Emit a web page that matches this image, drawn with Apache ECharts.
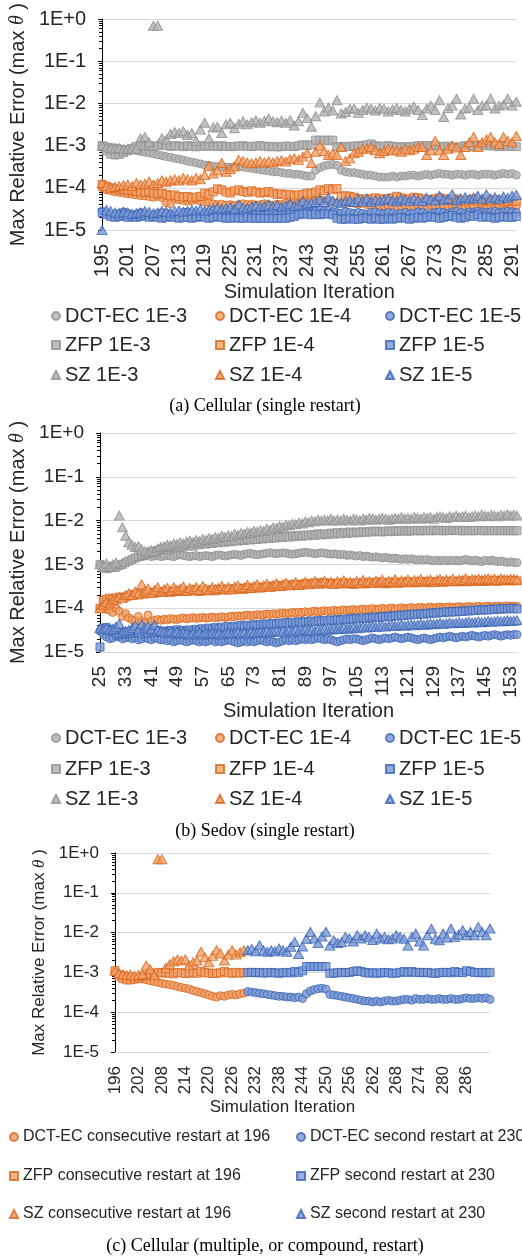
<!DOCTYPE html>
<html>
<head>
<meta charset="utf-8">
<title>Max Relative Error over Simulation Iterations</title>
<script src="https://cdn.jsdelivr.net/npm/echarts@6/dist/echarts.min.js"></script>
<style>
  html, body { margin: 0; padding: 0; background: #fff; }
  #chart { width: 522px; height: 1259px; }
</style>
</head>
<body>
<div id="chart"></div>
<script>
// ---------- axis ticks ----------
const yTickValues = [1e-5, 1e-4, 1e-3, 1e-2, 1e-1, 1];
const yTickLabels = ['1E-5', '1E-4', '1E-3', '1E-2', '1E-1', '1E+0'];

function iterRange(first, last) {
  const out = [];
  for (let v = first; v <= last; v++) out.push(String(v));
  return out;
}
// (a) Cellular 195..292, (b) Sedov 25..155, (c) Cellular compound 196..292
const itersA = iterRange(195, 292);
const itersB = iterRange(25, 155);
const itersC = iterRange(196, 292);

// ---------- (a) Cellular, single restart ----------
const aDct3 = [
  1.0e-3, 9.6e-4, 9.2e-4, 8.9e-4, 8.6e-4, 8.3e-4, 8.1e-4, 7.9e-4, 7.6e-4, 7.3e-4,
  7.0e-4, 6.7e-4, 6.4e-4, 6.1e-4, 5.8e-4, 5.5e-4, 5.3e-4, 5.0e-4, 4.8e-4, 4.6e-4,
  4.3e-4, 4.1e-4, 3.9e-4, 3.7e-4, 3.5e-4, 3.4e-4, 3.3e-4, 3.2e-4, 3.1e-4, 3.1e-4,
  3.1e-4, 3.2e-4, 3.2e-4, 3.1e-4, 3.0e-4, 2.9e-4, 2.8e-4, 2.7e-4, 2.6e-4, 2.5e-4,
  2.4e-4, 2.4e-4, 2.3e-4, 2.2e-4, 2.2e-4, 2.1e-4, 2.1e-4, 2.0e-4, 1.9e-4, 1.9e-4,
  2.6e-4, 3.0e-4, 3.3e-4, 3.5e-4, 3.6e-4, 3.4e-4, 2.6e-4, 2.4e-4, 2.3e-4, 2.3e-4,
  2.2e-4, 2.1e-4, 2.0e-4, 2.0e-4, 1.9e-4, 1.8e-4, 1.8e-4, 1.8e-4, 1.9e-4, 1.8e-4,
  1.9e-4, 1.9e-4, 2.0e-4, 2.0e-4, 1.9e-4, 2.0e-4, 2.1e-4, 2.0e-4, 2.1e-4, 2.2e-4,
  2.1e-4, 2.1e-4, 2.0e-4, 2.1e-4, 2.1e-4, 2.0e-4, 2.1e-4, 2.1e-4, 2.0e-4, 2.1e-4,
  2.1e-4, 2.1e-4, 2.0e-4, 2.1e-4, 2.2e-4, 2.1e-4, 2.2e-4, 2.0e-4
];
const aDct4 = [
  1.0e-4, 9.0e-5, 8.5e-5, 8.0e-5, 7.8e-5, 7.5e-5, 7.2e-5, 7.0e-5, 6.8e-5, 6.5e-5,
  6.5e-5, 6.2e-5, 6.0e-5, 6.3e-5, 5.8e-5, 4.4e-5, 4.2e-5, 5.5e-5, 5.2e-5, 5.0e-5,
  4.8e-5, 5.0e-5, 5.3e-5, 4.8e-5, 4.6e-5, 4.4e-5, 4.2e-5, 4.0e-5, 4.1e-5, 3.9e-5,
  4.0e-5, 3.8e-5, 4.0e-5, 4.2e-5, 4.0e-5, 4.1e-5, 3.9e-5, 4.0e-5, 4.2e-5, 4.0e-5,
  3.9e-5, 4.1e-5, 4.0e-5, 4.3e-5, 4.1e-5, 4.0e-5, 4.2e-5, 4.4e-5, 4.5e-5, 4.8e-5,
  5.0e-5, 5.2e-5, 5.0e-5, 4.8e-5, 4.6e-5, 4.3e-5, 4.5e-5, 4.2e-5, 4.4e-5, 4.3e-5,
  4.1e-5, 4.3e-5, 4.0e-5, 3.8e-5, 3.7e-5, 3.6e-5, 3.8e-5, 3.7e-5, 3.9e-5, 3.8e-5,
  3.7e-5, 3.9e-5, 3.8e-5, 3.6e-5, 3.8e-5, 3.7e-5, 3.9e-5, 4.0e-5, 3.8e-5, 3.7e-5,
  3.8e-5, 3.6e-5, 3.7e-5, 3.9e-5, 3.8e-5, 3.7e-5, 3.6e-5, 3.8e-5, 3.7e-5, 3.9e-5,
  3.8e-5, 3.7e-5, 3.6e-5, 3.8e-5, 3.7e-5, 3.5e-5, 3.6e-5, 3.7e-5
];
const aDct5 = [
  2.8e-5, 2.6e-5, 2.4e-5, 2.3e-5, 2.5e-5, 2.7e-5, 2.5e-5, 2.3e-5, 2.4e-5, 2.6e-5,
  2.5e-5, 2.3e-5, 2.2e-5, 2.4e-5, 2.6e-5, 2.5e-5, 2.3e-5, 2.2e-5, 2.4e-5, 2.6e-5,
  2.7e-5, 2.5e-5, 2.4e-5, 2.3e-5, 2.5e-5, 2.6e-5, 2.4e-5, 2.3e-5, 2.5e-5, 2.7e-5,
  2.6e-5, 2.4e-5, 2.5e-5, 2.6e-5, 2.4e-5, 2.3e-5, 2.5e-5, 2.6e-5, 2.4e-5, 2.5e-5,
  2.6e-5, 2.5e-5, 2.4e-5, 2.6e-5, 2.7e-5, 2.8e-5, 2.7e-5, 2.9e-5, 2.8e-5, 2.7e-5,
  2.9e-5, 3.0e-5, 2.8e-5, 2.9e-5, 2.7e-5, 2.6e-5, 2.5e-5, 2.7e-5, 2.6e-5, 2.5e-5,
  2.6e-5, 2.5e-5, 2.4e-5, 2.6e-5, 2.7e-5, 2.5e-5, 2.4e-5, 2.6e-5, 2.5e-5, 2.4e-5,
  2.5e-5, 2.6e-5, 2.4e-5, 2.5e-5, 2.7e-5, 2.6e-5, 2.4e-5, 2.5e-5, 2.6e-5, 2.7e-5,
  2.6e-5, 2.5e-5, 2.7e-5, 2.8e-5, 2.6e-5, 2.5e-5, 2.7e-5, 2.6e-5, 2.8e-5, 2.7e-5,
  2.6e-5, 2.7e-5, 2.8e-5, 2.6e-5, 2.7e-5, 2.8e-5, 2.7e-5, 2.6e-5
];
const aZfp3 = [
  1.0e-3, 7.5e-4, 6.3e-4, 6.0e-4, 6.2e-4, 6.8e-4, 7.5e-4, 8.5e-4, 9.5e-4, 1.0e-3,
  9.8e-4, 1.0e-3, 9.5e-4, 1.0e-3, 1.1e-3, 1.0e-3, 9.6e-4, 1.0e-3, 9.8e-4, 9.5e-4,
  1.0e-3, 9.6e-4, 9.4e-4, 1.0e-3, 9.6e-4, 9.7e-4, 1.0e-3, 9.5e-4, 1.0e-3, 9.6e-4,
  9.5e-4, 9.6e-4, 9.8e-4, 1.0e-3, 9.6e-4, 9.5e-4, 9.8e-4, 1.0e-3, 9.7e-4, 9.4e-4,
  9.6e-4, 9.3e-4, 9.5e-4, 9.8e-4, 9.6e-4, 9.5e-4, 1.0e-3, 1.05e-3, 1.0e-3, 1.05e-3,
  1.35e-3, 1.35e-3, 1.35e-3, 1.35e-3, 1.35e-3, 9.5e-4, 9.4e-4, 9.6e-4, 9.5e-4, 9.8e-4,
  1.0e-3, 9.8e-4, 1.05e-3, 1.1e-3, 1.0e-3, 9.5e-4, 9.8e-4, 1.0e-3, 9.6e-4, 9.5e-4,
  9.2e-4, 9.5e-4, 9.3e-4, 9.6e-4, 1.0e-3, 1.0e-3, 9.8e-4, 1.0e-3, 1.0e-3, 9.6e-4,
  9.5e-4, 9.8e-4, 9.4e-4, 9.0e-4, 9.5e-4, 1.0e-3, 1.0e-3, 9.6e-4, 1.0e-3, 1.05e-3,
  1.0e-3, 1.0e-3, 9.8e-4, 9.5e-4, 1.0e-3, 9.6e-4, 9.8e-4, 9.5e-4
];
const aZfp4 = [
  1.2e-4, 1.1e-4, 1.0e-4, 9.5e-5, 9.0e-5, 9.2e-5, 8.5e-5, 8.8e-5, 8.2e-5, 8.0e-5,
  7.8e-5, 8.0e-5, 7.5e-5, 7.2e-5, 7.5e-5, 7.0e-5, 6.5e-5, 6.8e-5, 6.2e-5, 6.0e-5,
  6.2e-5, 5.8e-5, 6.0e-5, 6.3e-5, 7.5e-5, 7.0e-5, 8.0e-5, 9.5e-5, 9.0e-5, 8.0e-5,
  7.5e-5, 8.5e-5, 9.0e-5, 8.2e-5, 7.8e-5, 8.5e-5, 8.0e-5, 7.5e-5, 7.8e-5, 8.2e-5,
  7.5e-5, 7.0e-5, 7.2e-5, 6.8e-5, 7.0e-5, 6.5e-5, 6.8e-5, 7.0e-5, 7.5e-5, 7.4e-5,
  8.0e-5, 9.0e-5, 8.5e-5, 9.6e-5, 9.0e-5, 9.6e-5, 6.3e-5, 6.5e-5, 6.3e-5, 6.0e-5,
  5.5e-5, 5.3e-5, 5.5e-5, 5.3e-5, 5.8e-5, 5.5e-5, 5.3e-5, 5.6e-5, 5.8e-5, 6.3e-5,
  5.8e-5, 5.3e-5, 5.5e-5, 6.0e-5, 5.8e-5, 5.5e-5, 5.0e-5, 5.3e-5, 5.5e-5, 5.8e-5,
  5.5e-5, 5.0e-5, 5.3e-5, 5.5e-5, 5.0e-5, 4.8e-5, 5.2e-5, 5.5e-5, 5.0e-5, 4.8e-5,
  5.0e-5, 4.8e-5, 5.2e-5, 5.0e-5, 4.6e-5, 4.8e-5, 5.0e-5, 4.8e-5
];
const aZfp5 = [
  2.6e-5, 2.3e-5, 2.1e-5, 2.0e-5, 2.1e-5, 2.2e-5, 2.0e-5, 2.1e-5, 2.0e-5, 2.1e-5,
  2.2e-5, 2.0e-5, 2.1e-5, 2.0e-5, 1.9e-5, 2.0e-5, 2.1e-5, 2.0e-5, 1.9e-5, 2.0e-5,
  2.0e-5, 1.9e-5, 2.0e-5, 2.1e-5, 2.0e-5, 1.9e-5, 2.0e-5, 2.1e-5, 2.0e-5, 1.9e-5,
  1.9e-5, 2.0e-5, 1.9e-5, 1.9e-5, 2.0e-5, 1.9e-5, 1.9e-5, 1.9e-5, 1.9e-5, 1.9e-5,
  1.9e-5, 1.9e-5, 1.9e-5, 1.9e-5, 2.0e-5, 2.1e-5, 2.3e-5, 2.4e-5, 2.4e-5, 2.3e-5,
  2.4e-5, 2.3e-5, 2.4e-5, 2.4e-5, 2.3e-5, 1.9e-5, 1.8e-5, 1.8e-5, 1.9e-5, 1.8e-5,
  1.8e-5, 1.9e-5, 1.9e-5, 1.8e-5, 1.9e-5, 1.8e-5, 1.8e-5, 1.9e-5, 1.8e-5, 1.9e-5,
  2.0e-5, 1.9e-5, 1.8e-5, 1.9e-5, 2.0e-5, 1.9e-5, 2.0e-5, 2.1e-5, 2.0e-5, 1.9e-5,
  2.0e-5, 2.1e-5, 2.2e-5, 2.0e-5, 1.9e-5, 2.0e-5, 2.2e-5, 2.1e-5, 2.3e-5, 2.0e-5,
  2.1e-5, 2.0e-5, 1.9e-5, 2.0e-5, 2.1e-5, 2.0e-5, 2.0e-5, 2.1e-5
];
const aSz3 = [
  1.0e-3, 9.2e-4, 8.8e-4, 8.5e-4, 8.8e-4, 8.2e-4, 8.6e-4, 9.0e-4, 8.5e-4, 1.5e-3,
  1.6e-3, 1.2e-3, 0.7, 0.7, 1.5e-3, 1.4e-3, 1.9e-3, 2.1e-3, 2.0e-3, 2.2e-3,
  1.8e-3, 2.0e-3, 1.3e-3, 2.4e-3, 3.5e-3, 1.5e-3, 2.7e-3, 2.8e-3, 2.0e-3, 3.2e-3,
  3.5e-3, 2.6e-3, 3.3e-3, 3.8e-3, 3.2e-3, 3.6e-3, 4.0e-3, 3.5e-3, 3.9e-3, 4.4e-3,
  3.8e-3, 3.6e-3, 3.9e-3, 3.5e-3, 4.0e-3, 3.0e-3, 3.8e-3, 6.0e-3, 4.5e-3, 2.8e-3,
  5.0e-3, 1.05e-2, 6.5e-3, 8.0e-3, 6.8e-3, 1.2e-2, 5.8e-3, 6.3e-3, 7.5e-3, 7.6e-3,
  6.0e-3, 7.0e-3, 8.0e-3, 7.5e-3, 6.8e-3, 7.8e-3, 7.5e-3, 6.5e-3, 7.2e-3, 7.8e-3,
  7.0e-3, 6.5e-3, 7.5e-3, 8.5e-3, 7.0e-3, 5.3e-3, 7.6e-3, 8.9e-3, 7.0e-3, 1.2e-2,
  4.8e-3, 7.8e-3, 8.9e-3, 1.3e-2, 5.5e-3, 7.6e-3, 8.0e-3, 1.3e-2, 7.0e-3, 8.9e-3,
  9.0e-3, 1.3e-2, 7.6e-3, 8.9e-3, 9.5e-3, 1.3e-2, 8.9e-3, 1.1e-2
];
const aSz4 = [
  1.3e-4, 1.1e-4, 1.0e-4, 1.05e-4, 1.1e-4, 1.15e-4, 1.2e-4, 1.1e-4, 1.3e-4, 1.2e-4,
  1.25e-4, 1.4e-4, 1.2e-4, 1.3e-4, 1.5e-4, 1.4e-4, 1.5e-4, 1.6e-4, 1.5e-4, 1.7e-4,
  1.6e-4, 1.5e-4, 1.7e-4, 1.6e-4, 2.0e-4, 3.3e-4, 2.2e-4, 2.6e-4, 3.9e-4, 2.4e-4,
  2.8e-4, 3.2e-4, 4.6e-4, 4.3e-4, 4.0e-4, 3.8e-4, 4.0e-4, 4.3e-4, 4.0e-4, 4.2e-4,
  4.0e-4, 4.3e-4, 4.5e-4, 4.2e-4, 4.8e-4, 5.0e-4, 4.6e-4, 5.5e-4, 6.6e-4, 3.9e-4,
  7.2e-4, 1.0e-3, 7.5e-4, 6.0e-4, 6.5e-4, 6.0e-4, 9.3e-4, 4.3e-4, 5.0e-4, 6.6e-4,
  7.2e-4, 8.5e-4, 8.5e-4, 9.3e-4, 7.8e-4, 6.6e-4, 7.5e-4, 8.5e-4, 7.8e-4, 7.8e-4,
  7.2e-4, 8.5e-4, 7.8e-4, 8.5e-4, 9.3e-4, 9.3e-4, 6.0e-4, 7.8e-4, 1.3e-3, 7.8e-4,
  6.0e-4, 8.5e-4, 1.0e-3, 9.0e-4, 6.0e-4, 9.3e-4, 1.2e-3, 1.6e-3, 9.3e-4, 1.2e-3,
  1.4e-3, 1.6e-3, 1.2e-3, 1.1e-3, 1.6e-3, 1.3e-3, 1.2e-3, 1.7e-3
];
const aSz5 = [
  1.0e-5, 3.0e-5, 2.8e-5, 2.6e-5, 2.5e-5, 2.7e-5, 2.6e-5, 2.4e-5, 2.5e-5, 2.6e-5,
  2.8e-5, 2.7e-5, 2.5e-5, 2.6e-5, 2.8e-5, 2.7e-5, 2.6e-5, 2.8e-5, 2.9e-5, 2.7e-5,
  2.8e-5, 3.0e-5, 2.9e-5, 3.1e-5, 2.9e-5, 3.0e-5, 3.2e-5, 3.4e-5, 3.1e-5, 3.3e-5,
  3.5e-5, 3.2e-5, 4.0e-5, 3.4e-5, 3.3e-5, 3.6e-5, 3.8e-5, 3.5e-5, 3.7e-5, 4.0e-5,
  3.6e-5, 3.9e-5, 3.5e-5, 3.8e-5, 4.2e-5, 3.7e-5, 4.0e-5, 4.8e-5, 4.2e-5, 4.4e-5,
  4.6e-5, 5.2e-5, 4.6e-5, 5.8e-5, 5.0e-5, 4.5e-5, 4.4e-5, 4.8e-5, 5.0e-5, 4.6e-5,
  5.4e-5, 4.8e-5, 5.6e-5, 4.7e-5, 5.2e-5, 4.9e-5, 5.3e-5, 5.6e-5, 5.0e-5, 4.8e-5,
  5.5e-5, 5.2e-5, 4.9e-5, 5.6e-5, 5.1e-5, 4.8e-5, 5.8e-5, 5.3e-5, 5.0e-5, 6.5e-5,
  5.2e-5, 5.5e-5, 7.0e-5, 5.0e-5, 5.6e-5, 6.0e-5, 5.4e-5, 5.8e-5, 6.5e-5, 5.5e-5,
  7.0e-5, 5.6e-5, 6.0e-5, 5.4e-5, 6.2e-5, 5.8e-5, 6.5e-5, 6.8e-5
];

// ---------- (b) Sedov, single restart ----------
const bDct3 = [
  9.5e-4, 9.0e-4, 8.5e-4, 8.0e-4, 8.5e-4, 9.0e-4, 9.5e-4, 1.0e-3, 1.1e-3, 1.2e-3,
  1.3e-3, 1.4e-3, 1.45e-3, 1.5e-3, 1.55e-3, 1.6e-3, 1.5e-3, 1.55e-3, 1.6e-3, 1.5e-3,
  1.55e-3, 1.6e-3, 1.55e-3, 1.5e-3, 1.6e-3, 1.65e-3, 1.6e-3, 1.55e-3, 1.5e-3, 1.55e-3,
  1.6e-3, 1.5e-3, 1.55e-3, 1.6e-3, 1.55e-3, 1.5e-3, 1.6e-3, 1.65e-3, 1.6e-3, 1.55e-3,
  1.6e-3, 1.65e-3, 1.7e-3, 1.65e-3, 1.6e-3, 1.7e-3, 1.75e-3, 1.8e-3, 1.7e-3, 1.65e-3,
  1.7e-3, 1.75e-3, 1.8e-3, 1.85e-3, 1.8e-3, 1.75e-3, 1.8e-3, 1.85e-3, 1.8e-3, 1.75e-3,
  1.7e-3, 1.75e-3, 1.8e-3, 1.85e-3, 1.9e-3, 1.85e-3, 1.8e-3, 1.75e-3, 1.8e-3, 1.85e-3,
  1.8e-3, 1.75e-3, 1.7e-3, 1.75e-3, 1.7e-3, 1.65e-3, 1.7e-3, 1.6e-3, 1.65e-3, 1.6e-3,
  1.55e-3, 1.6e-3, 1.5e-3, 1.55e-3, 1.5e-3, 1.45e-3, 1.5e-3, 1.45e-3, 1.4e-3, 1.45e-3,
  1.4e-3, 1.35e-3, 1.4e-3, 1.35e-3, 1.3e-3, 1.35e-3, 1.3e-3, 1.35e-3, 1.3e-3, 1.25e-3,
  1.3e-3, 1.25e-3, 1.3e-3, 1.25e-3, 1.2e-3, 1.25e-3, 1.2e-3, 1.25e-3, 1.2e-3, 1.25e-3,
  1.2e-3, 1.25e-3, 1.2e-3, 1.25e-3, 1.3e-3, 1.25e-3, 1.2e-3, 1.25e-3, 1.2e-3, 1.15e-3,
  1.25e-3, 1.2e-3, 1.25e-3, 1.2e-3, 1.15e-3, 1.2e-3, 1.15e-3, 1.1e-3, 1.15e-3, 1.1e-3,
  1.1e-3
];
const bDct4 = [
  1.0e-4, 1.0e-4, 9.5e-5, 9.0e-5, 8.0e-5, 1.0e-4, 8.5e-5, 6.5e-5, 7.5e-5, 6.0e-5,
  5.5e-5, 5.2e-5, 6.5e-5, 5.0e-5, 4.6e-5, 7.0e-5, 5.0e-5, 5.3e-5, 5.5e-5, 5.3e-5,
  5.6e-5, 5.4e-5, 5.8e-5, 5.6e-5, 5.5e-5, 5.8e-5, 6.0e-5, 5.7e-5, 5.9e-5, 6.1e-5,
  5.8e-5, 6.0e-5, 6.2e-5, 5.9e-5, 6.1e-5, 6.3e-5, 6.0e-5, 6.2e-5, 6.4e-5, 6.1e-5,
  6.3e-5, 6.6e-5, 6.4e-5, 6.7e-5, 6.5e-5, 6.8e-5, 7.0e-5, 6.7e-5, 6.9e-5, 7.2e-5,
  6.9e-5, 7.1e-5, 7.4e-5, 7.2e-5, 7.5e-5, 7.3e-5, 7.6e-5, 7.8e-5, 7.5e-5, 7.7e-5,
  8.0e-5, 7.8e-5, 8.1e-5, 7.9e-5, 8.3e-5, 8.0e-5, 8.4e-5, 8.6e-5, 8.2e-5, 8.5e-5,
  8.8e-5, 8.5e-5, 8.7e-5, 9.0e-5, 8.6e-5, 8.9e-5, 9.2e-5, 8.8e-5, 9.1e-5, 9.4e-5,
  9.0e-5, 9.3e-5, 9.6e-5, 9.2e-5, 9.5e-5, 9.8e-5, 9.3e-5, 9.6e-5, 1.0e-4, 9.5e-5,
  9.8e-5, 1.01e-4, 9.6e-5, 9.9e-5, 1.03e-4, 9.8e-5, 1.0e-4, 1.04e-4, 9.9e-5, 1.02e-4,
  1.05e-4, 1.0e-4, 1.03e-4, 1.06e-4, 1.01e-4, 1.04e-4, 1.07e-4, 1.02e-4, 1.05e-4, 1.08e-4,
  1.03e-4, 1.06e-4, 1.09e-4, 1.04e-4, 1.07e-4, 1.1e-4, 1.05e-4, 1.08e-4, 1.11e-4, 1.06e-4,
  1.09e-4, 1.12e-4, 1.07e-4, 1.1e-4, 1.13e-4, 1.08e-4, 1.11e-4, 1.14e-4, 1.09e-4, 1.12e-4,
  1.1e-4
];
const bDct5 = [
  3.0e-5, 2.5e-5, 2.2e-5, 2.0e-5, 2.1e-5, 2.3e-5, 2.2e-5, 2.0e-5, 2.1e-5, 2.2e-5,
  2.0e-5, 2.1e-5, 1.9e-5, 2.0e-5, 2.2e-5, 2.0e-5, 1.9e-5, 2.1e-5, 2.0e-5, 1.9e-5,
  1.9e-5, 1.8e-5, 1.9e-5, 1.7e-5, 1.8e-5, 1.9e-5, 1.8e-5, 1.7e-5, 1.8e-5, 1.9e-5,
  1.8e-5, 1.7e-5, 1.8e-5, 1.7e-5, 1.8e-5, 1.9e-5, 1.7e-5, 1.8e-5, 1.7e-5, 1.8e-5,
  1.9e-5, 1.8e-5, 1.7e-5, 1.6e-5, 1.7e-5, 1.8e-5, 1.7e-5, 1.8e-5, 1.7e-5, 1.8e-5,
  1.9e-5, 1.8e-5, 1.7e-5, 1.8e-5, 1.7e-5, 1.6e-5, 1.7e-5, 1.8e-5, 1.9e-5, 1.8e-5,
  1.9e-5, 1.8e-5, 1.9e-5, 2.0e-5, 1.9e-5, 2.0e-5, 1.9e-5, 2.0e-5, 2.1e-5, 2.0e-5,
  1.9e-5, 2.0e-5, 1.9e-5, 1.8e-5, 1.7e-5, 1.8e-5, 1.9e-5, 2.0e-5, 1.9e-5, 2.0e-5,
  2.0e-5, 1.9e-5, 1.8e-5, 1.9e-5, 2.0e-5, 2.1e-5, 2.0e-5, 1.9e-5, 2.0e-5, 2.1e-5,
  2.0e-5, 2.1e-5, 2.2e-5, 2.1e-5, 2.0e-5, 2.1e-5, 2.2e-5, 2.1e-5, 2.0e-5, 1.9e-5,
  2.0e-5, 2.1e-5, 2.0e-5, 1.9e-5, 2.0e-5, 2.1e-5, 2.2e-5, 2.1e-5, 2.2e-5, 2.3e-5,
  2.2e-5, 2.1e-5, 2.2e-5, 2.3e-5, 2.2e-5, 2.3e-5, 2.4e-5, 2.3e-5, 2.2e-5, 2.3e-5,
  2.4e-5, 2.3e-5, 2.4e-5, 2.5e-5, 2.4e-5, 2.3e-5, 2.4e-5, 2.5e-5, 2.4e-5, 2.5e-5,
  2.5e-5
];
const bZfp3 = [
  1.0e-3, 8.5e-4, 8.0e-4, 8.5e-4, 9.0e-4, 8.5e-4, 9.5e-4, 1.0e-3, 1.1e-3, 1.2e-3,
  1.3e-3, 1.4e-3, 1.5e-3, 1.6e-3, 1.7e-3, 1.8e-3, 2.0e-3, 1.9e-3, 2.1e-3, 2.2e-3,
  2.3e-3, 2.2e-3, 2.4e-3, 2.5e-3, 2.4e-3, 2.6e-3, 2.5e-3, 2.7e-3, 2.8e-3, 2.6e-3,
  2.9e-3, 2.8e-3, 3.0e-3, 2.9e-3, 3.1e-3, 3.0e-3, 3.2e-3, 3.1e-3, 3.3e-3, 3.2e-3,
  3.4e-3, 3.3e-3, 3.5e-3, 3.4e-3, 3.6e-3, 3.5e-3, 3.7e-3, 3.6e-3, 3.8e-3, 3.7e-3,
  3.9e-3, 3.8e-3, 4.0e-3, 3.9e-3, 4.2e-3, 4.0e-3, 4.3e-3, 4.1e-3, 4.4e-3, 4.2e-3,
  4.5e-3, 4.3e-3, 4.6e-3, 4.4e-3, 4.7e-3, 4.5e-3, 4.8e-3, 4.6e-3, 5.0e-3, 4.7e-3,
  5.0e-3, 4.8e-3, 5.2e-3, 4.9e-3, 5.3e-3, 5.0e-3, 5.4e-3, 5.1e-3, 5.5e-3, 5.2e-3,
  5.5e-3, 5.3e-3, 5.6e-3, 5.4e-3, 5.7e-3, 5.5e-3, 5.8e-3, 5.6e-3, 5.5e-3, 5.7e-3,
  5.8e-3, 5.6e-3, 5.9e-3, 5.7e-3, 5.8e-3, 6.0e-3, 5.7e-3, 5.9e-3, 5.8e-3, 6.0e-3,
  5.8e-3, 5.9e-3, 6.0e-3, 5.8e-3, 6.1e-3, 5.9e-3, 6.0e-3, 5.8e-3, 6.0e-3, 5.9e-3,
  6.0e-3, 5.9e-3, 6.0e-3, 5.8e-3, 6.0e-3, 5.9e-3, 5.85e-3, 5.9e-3, 5.95e-3, 5.9e-3,
  5.85e-3, 5.9e-3, 5.9e-3, 5.85e-3, 5.9e-3, 5.9e-3, 5.85e-3, 5.9e-3, 5.9e-3, 5.85e-3,
  5.9e-3
];
const bZfp4 = [
  1.0e-4, 1.5e-4, 1.6e-4, 1.7e-4, 1.6e-4, 1.7e-4, 1.8e-4, 1.75e-4, 1.8e-4, 1.9e-4,
  2.0e-4, 2.1e-4, 2.0e-4, 2.2e-4, 2.1e-4, 2.2e-4, 2.3e-4, 2.2e-4, 2.3e-4, 2.4e-4,
  2.3e-4, 2.4e-4, 2.3e-4, 2.4e-4, 2.5e-4, 2.4e-4, 2.5e-4, 2.4e-4, 2.5e-4, 2.6e-4,
  2.5e-4, 2.4e-4, 2.5e-4, 2.6e-4, 2.5e-4, 2.6e-4, 2.5e-4, 2.7e-4, 2.6e-4, 2.7e-4,
  2.6e-4, 2.7e-4, 2.8e-4, 2.7e-4, 2.8e-4, 2.7e-4, 2.9e-4, 2.8e-4, 2.9e-4, 3.0e-4,
  2.9e-4, 3.0e-4, 3.1e-4, 3.0e-4, 3.2e-4, 3.1e-4, 3.3e-4, 3.2e-4, 3.4e-4, 3.3e-4,
  3.4e-4, 3.3e-4, 3.5e-4, 3.4e-4, 3.6e-4, 3.5e-4, 3.7e-4, 3.6e-4, 3.8e-4, 3.7e-4,
  3.8e-4, 3.6e-4, 3.7e-4, 3.5e-4, 3.7e-4, 3.6e-4, 3.8e-4, 3.6e-4, 3.7e-4, 3.5e-4,
  3.6e-4, 3.8e-4, 3.7e-4, 3.6e-4, 3.8e-4, 3.7e-4, 3.9e-4, 3.7e-4, 3.8e-4, 3.6e-4,
  3.7e-4, 3.9e-4, 3.8e-4, 3.7e-4, 3.9e-4, 3.8e-4, 4.0e-4, 3.8e-4, 3.9e-4, 3.8e-4,
  4.0e-4, 3.9e-4, 4.0e-4, 3.8e-4, 4.0e-4, 3.9e-4, 4.1e-4, 3.9e-4, 4.0e-4, 4.1e-4,
  4.0e-4, 4.1e-4, 4.0e-4, 4.2e-4, 4.1e-4, 4.0e-4, 4.2e-4, 4.1e-4, 4.2e-4, 4.1e-4,
  4.2e-4, 4.1e-4, 4.3e-4, 4.2e-4, 4.1e-4, 4.3e-4, 4.2e-4, 4.3e-4, 4.2e-4, 4.3e-4,
  4.2e-4
];
const bZfp5 = [
  1.3e-5, 3.5e-5, 3.6e-5, 3.3e-5, 3.0e-5, 2.7e-5, 2.5e-5, 2.8e-5, 2.6e-5, 2.9e-5,
  2.7e-5, 3.0e-5, 2.8e-5, 2.6e-5, 2.9e-5, 2.7e-5, 3.0e-5, 2.8e-5, 3.1e-5, 2.9e-5,
  3.0e-5, 2.8e-5, 3.1e-5, 2.9e-5, 3.2e-5, 3.0e-5, 3.1e-5, 2.9e-5, 3.2e-5, 3.0e-5,
  3.3e-5, 3.1e-5, 3.4e-5, 3.2e-5, 3.5e-5, 3.3e-5, 3.6e-5, 3.4e-5, 3.7e-5, 3.5e-5,
  3.8e-5, 3.6e-5, 3.9e-5, 3.7e-5, 4.0e-5, 3.8e-5, 4.1e-5, 3.9e-5, 4.2e-5, 4.0e-5,
  4.3e-5, 4.1e-5, 4.4e-5, 4.2e-5, 4.5e-5, 4.3e-5, 4.6e-5, 4.4e-5, 4.7e-5, 4.5e-5,
  4.8e-5, 4.6e-5, 4.9e-5, 4.7e-5, 5.0e-5, 4.8e-5, 5.1e-5, 4.9e-5, 5.2e-5, 5.0e-5,
  5.3e-5, 5.1e-5, 5.4e-5, 5.2e-5, 5.5e-5, 5.3e-5, 5.6e-5, 5.4e-5, 5.8e-5, 5.6e-5,
  5.9e-5, 5.7e-5, 6.0e-5, 5.8e-5, 6.2e-5, 6.0e-5, 6.3e-5, 6.1e-5, 6.5e-5, 6.3e-5,
  6.6e-5, 6.4e-5, 6.8e-5, 6.6e-5, 7.0e-5, 6.8e-5, 7.2e-5, 7.0e-5, 7.4e-5, 7.2e-5,
  7.5e-5, 7.3e-5, 7.7e-5, 7.5e-5, 7.9e-5, 7.7e-5, 8.1e-5, 7.9e-5, 8.3e-5, 8.1e-5,
  8.4e-5, 8.2e-5, 8.6e-5, 8.4e-5, 8.8e-5, 8.6e-5, 9.0e-5, 8.8e-5, 9.2e-5, 9.0e-5,
  9.3e-5, 9.1e-5, 9.5e-5, 9.3e-5, 9.7e-5, 9.5e-5, 9.8e-5, 9.6e-5, 1.0e-4, 9.8e-5,
  9.6e-5
];
const bSz3 = [
  1.0e-3, 9.5e-4, 1.05e-3, 9.0e-4, 1.0e-3, 1.1e-3, 1.3e-2, 7.0e-3, 4.5e-3, 3.2e-3,
  2.8e-3, 2.5e-3, 2.6e-3, 2.2e-3, 2.0e-3, 1.9e-3, 2.1e-3, 2.0e-3, 2.3e-3, 2.5e-3,
  2.6e-3, 2.8e-3, 2.7e-3, 3.0e-3, 2.9e-3, 3.2e-3, 3.0e-3, 3.3e-3, 3.5e-3, 3.2e-3,
  3.6e-3, 3.4e-3, 3.8e-3, 3.6e-3, 4.0e-3, 3.8e-3, 4.2e-3, 4.0e-3, 4.5e-3, 4.2e-3,
  4.6e-3, 4.4e-3, 5.0e-3, 4.7e-3, 5.2e-3, 5.0e-3, 5.5e-3, 5.3e-3, 5.8e-3, 5.6e-3,
  6.0e-3, 5.8e-3, 6.5e-3, 6.2e-3, 7.0e-3, 6.8e-3, 7.5e-3, 7.2e-3, 8.0e-3, 7.8e-3,
  8.5e-3, 8.2e-3, 9.0e-3, 8.6e-3, 9.5e-3, 9.2e-3, 1.0e-2, 9.6e-3, 1.05e-2, 1.0e-2,
  1.05e-2, 1.0e-2, 1.1e-2, 1.0e-2, 1.05e-2, 1.0e-2, 1.1e-2, 1.05e-2, 1.0e-2, 1.1e-2,
  1.05e-2, 1.0e-2, 1.1e-2, 1.05e-2, 1.15e-2, 1.1e-2, 1.05e-2, 1.1e-2, 1.15e-2, 1.1e-2,
  1.05e-2, 1.1e-2, 1.15e-2, 1.1e-2, 1.2e-2, 1.1e-2, 1.15e-2, 1.1e-2, 1.2e-2, 1.15e-2,
  1.1e-2, 1.2e-2, 1.15e-2, 1.2e-2, 1.1e-2, 1.2e-2, 1.25e-2, 1.2e-2, 1.15e-2, 1.25e-2,
  1.2e-2, 1.3e-2, 1.2e-2, 1.25e-2, 1.3e-2, 1.2e-2, 1.25e-2, 1.3e-2, 1.25e-2, 1.35e-2,
  1.3e-2, 1.25e-2, 1.35e-2, 1.3e-2, 1.25e-2, 1.35e-2, 1.3e-2, 1.4e-2, 1.3e-2, 1.35e-2,
  1.3e-2
];
const bSz4 = [
  1.0e-4, 1.2e-4, 1.4e-4, 1.3e-4, 1.5e-4, 1.6e-4, 1.8e-4, 1.7e-4, 2.0e-4, 2.2e-4,
  2.0e-4, 2.4e-4, 2.2e-4, 3.5e-4, 2.5e-4, 2.8e-4, 2.3e-4, 2.6e-4, 3.0e-4, 2.4e-4,
  2.7e-4, 2.9e-4, 2.5e-4, 3.0e-4, 2.6e-4, 2.8e-4, 3.1e-4, 2.5e-4, 2.9e-4, 2.7e-4,
  3.0e-4, 2.6e-4, 3.2e-4, 2.8e-4, 2.6e-4, 3.0e-4, 2.7e-4, 2.9e-4, 3.2e-4, 2.8e-4,
  3.0e-4, 2.7e-4, 3.1e-4, 3.3e-4, 2.9e-4, 3.0e-4, 3.4e-4, 2.9e-4, 3.2e-4, 3.5e-4,
  3.0e-4, 3.3e-4, 3.6e-4, 3.1e-4, 3.4e-4, 3.7e-4, 3.2e-4, 3.5e-4, 3.8e-4, 3.3e-4,
  3.6e-4, 3.9e-4, 3.4e-4, 3.7e-4, 4.0e-4, 3.5e-4, 3.8e-4, 4.1e-4, 3.6e-4, 3.9e-4,
  4.2e-4, 3.7e-4, 4.0e-4, 3.6e-4, 4.1e-4, 3.8e-4, 4.3e-4, 3.7e-4, 4.0e-4, 3.8e-4,
  4.2e-4, 3.7e-4, 4.4e-4, 3.9e-4, 4.1e-4, 3.8e-4, 4.3e-4, 4.0e-4, 4.5e-4, 3.9e-4,
  4.2e-4, 4.0e-4, 4.6e-4, 3.9e-4, 4.3e-4, 4.1e-4, 4.5e-4, 4.0e-4, 4.4e-4, 4.2e-4,
  4.6e-4, 4.1e-4, 4.3e-4, 4.5e-4, 4.0e-4, 4.4e-4, 4.6e-4, 4.2e-4, 4.5e-4, 4.3e-4,
  4.7e-4, 4.2e-4, 4.5e-4, 4.4e-4, 4.8e-4, 4.3e-4, 4.6e-4, 4.5e-4, 4.7e-4, 4.4e-4,
  4.6e-4, 4.8e-4, 4.5e-4, 4.7e-4, 4.4e-4, 4.8e-4, 4.6e-4, 4.5e-4, 4.7e-4, 4.6e-4,
  4.5e-4
];
const bSz5 = [
  3.5e-5, 3.3e-5, 3.6e-5, 3.2e-5, 3.4e-5, 3.8e-5, 4.4e-5, 2.8e-5, 3.0e-5, 3.2e-5,
  3.5e-5, 4.0e-5, 3.3e-5, 4.3e-5, 3.6e-5, 3.9e-5, 3.4e-5, 4.2e-5, 3.2e-5, 3.0e-5,
  2.9e-5, 2.8e-5, 3.0e-5, 2.7e-5, 2.9e-5, 2.6e-5, 2.8e-5, 2.7e-5, 2.5e-5, 2.7e-5,
  2.6e-5, 2.8e-5, 2.5e-5, 2.7e-5, 2.6e-5, 2.8e-5, 2.6e-5, 2.7e-5, 2.5e-5, 2.7e-5,
  2.8e-5, 2.6e-5, 2.7e-5, 2.9e-5, 2.7e-5, 2.8e-5, 2.6e-5, 2.9e-5, 2.8e-5, 2.7e-5,
  2.9e-5, 2.8e-5, 3.0e-5, 2.8e-5, 2.9e-5, 3.1e-5, 2.9e-5, 3.0e-5, 2.8e-5, 3.1e-5,
  3.0e-5, 3.2e-5, 3.0e-5, 3.1e-5, 3.3e-5, 3.1e-5, 3.2e-5, 3.0e-5, 3.3e-5, 3.2e-5,
  3.4e-5, 3.2e-5, 3.3e-5, 3.5e-5, 3.3e-5, 3.4e-5, 3.6e-5, 3.4e-5, 3.5e-5, 3.7e-5,
  3.5e-5, 3.6e-5, 3.8e-5, 3.6e-5, 3.7e-5, 3.9e-5, 3.7e-5, 3.8e-5, 4.0e-5, 3.8e-5,
  3.9e-5, 4.1e-5, 3.9e-5, 4.0e-5, 4.2e-5, 4.0e-5, 4.1e-5, 4.3e-5, 4.1e-5, 4.2e-5,
  4.4e-5, 4.2e-5, 4.3e-5, 4.5e-5, 4.3e-5, 4.4e-5, 4.6e-5, 4.4e-5, 4.5e-5, 4.7e-5,
  4.5e-5, 4.6e-5, 4.8e-5, 4.6e-5, 4.7e-5, 4.9e-5, 4.7e-5, 4.8e-5, 5.0e-5, 4.8e-5,
  4.9e-5, 5.1e-5, 4.9e-5, 5.0e-5, 5.2e-5, 5.0e-5, 5.1e-5, 5.3e-5, 5.1e-5, 5.2e-5,
  5.3e-5
];

// ---------- (c) Cellular, compound restart (196 -> 229, then 230 -> 292) ----------
const cDctFirst = [
  1.0e-3, 9.0e-4, 8.5e-4, 8.0e-4, 7.8e-4, 7.5e-4, 7.2e-4, 6.8e-4, 6.5e-4, 6.2e-4,
  5.9e-4, 5.6e-4, 5.3e-4, 5.1e-4, 4.9e-4, 4.7e-4, 4.4e-4, 4.2e-4, 4.0e-4, 3.8e-4,
  3.5e-4, 3.3e-4, 3.1e-4, 2.9e-4, 2.7e-4, 2.5e-4, 2.4e-4, 2.6e-4, 2.5e-4, 2.7e-4,
  2.8e-4, 2.7e-4, 2.9e-4, 3.0e-4
];
const cDctSecond = [
  3.3e-4, 3.2e-4, 3.1e-4, 3.0e-4, 2.9e-4, 2.8e-4, 2.7e-4, 2.6e-4, 2.5e-4, 2.5e-4,
  2.4e-4, 2.4e-4, 2.3e-4, 2.4e-4, 2.2e-4, 2.9e-4, 3.4e-4, 3.7e-4, 3.9e-4, 4.0e-4,
  3.8e-4, 2.8e-4, 2.7e-4, 2.6e-4, 2.5e-4, 2.4e-4, 2.3e-4, 2.2e-4, 2.1e-4, 2.0e-4,
  1.9e-4, 1.9e-4, 1.8e-4, 1.9e-4, 1.8e-4, 1.9e-4, 2.0e-4, 1.9e-4, 1.9e-4, 2.0e-4,
  2.1e-4, 2.1e-4, 2.0e-4, 2.2e-4, 2.1e-4, 2.1e-4, 2.2e-4, 2.1e-4, 2.1e-4, 2.2e-4,
  2.1e-4, 2.1e-4, 2.2e-4, 2.1e-4, 2.1e-4, 2.2e-4, 2.3e-4, 2.2e-4, 2.2e-4, 2.3e-4,
  2.2e-4, 2.3e-4, 2.1e-4
];
const cZfpFirst = [
  1.1e-3, 8.0e-4, 7.0e-4, 6.5e-4, 6.5e-4, 6.8e-4, 7.2e-4, 8.0e-4, 8.5e-4, 9.0e-4,
  9.5e-4, 1.0e-3, 9.6e-4, 1.0e-3, 9.5e-4, 9.2e-4, 1.0e-3, 9.8e-4, 9.4e-4, 9.6e-4,
  1.0e-3, 9.5e-4, 1.05e-3, 1.0e-3, 9.6e-4, 9.4e-4, 9.5e-4, 9.8e-4, 1.05e-3, 9.8e-4,
  9.5e-4, 1.0e-3, 9.6e-4, 9.8e-4
];
const cZfpSecond = [
  1.0e-3, 1.0e-3, 9.8e-4, 1.0e-3, 9.6e-4, 9.8e-4, 1.0e-3, 9.7e-4, 9.5e-4, 9.8e-4,
  1.0e-3, 9.7e-4, 1.05e-3, 1.0e-3, 1.1e-3, 1.4e-3, 1.4e-3, 1.4e-3, 1.4e-3, 1.4e-3,
  1.4e-3, 9.5e-4, 9.6e-4, 9.8e-4, 1.0e-3, 9.8e-4, 1.0e-3, 1.05e-3, 1.1e-3, 1.05e-3,
  1.0e-3, 9.6e-4, 9.8e-4, 9.5e-4, 9.7e-4, 1.0e-3, 9.8e-4, 9.5e-4, 9.6e-4, 1.0e-3,
  1.05e-3, 1.0e-3, 1.05e-3, 1.0e-3, 1.0e-3, 9.8e-4, 1.0e-3, 9.6e-4, 9.5e-4, 9.8e-4,
  1.0e-3, 1.0e-3, 9.8e-4, 1.05e-3, 1.0e-3, 9.8e-4, 1.1e-3, 1.05e-3, 1.0e-3, 9.8e-4,
  1.0e-3, 9.7e-4, 1.0e-3
];
const cSzFirst = [
  1.1e-3, 9.5e-4, 9.0e-4, 8.5e-4, 8.8e-4, 8.3e-4, 8.6e-4, 9.0e-4, 1.5e-3, 1.2e-3,
  8.5e-4, 0.7, 0.7, 1.3e-3, 1.6e-3, 1.9e-3, 2.1e-3, 2.0e-3, 2.1e-3, 1.5e-3,
  1.8e-3, 2.0e-3, 3.3e-3, 2.4e-3, 1.8e-3, 2.6e-3, 3.6e-3, 3.0e-3, 2.0e-3, 2.8e-3,
  3.6e-3, 2.8e-3, 3.2e-3, 3.6e-3
];
const cSzSecond = [
  3.6e-3, 3.9e-3, 3.4e-3, 4.8e-3, 3.6e-3, 3.3e-3, 3.6e-3, 3.4e-3, 4.0e-3, 3.6e-3,
  3.3e-3, 4.4e-3, 5.8e-3, 2.9e-3, 4.5e-3, 7.0e-3, 1.04e-2, 7.1e-3, 5.5e-3, 8.0e-3,
  1.05e-2, 4.7e-3, 6.4e-3, 5.5e-3, 5.8e-3, 7.8e-3, 7.1e-3, 6.0e-3, 8.6e-3, 7.1e-3,
  8.6e-3, 7.8e-3, 6.5e-3, 9.4e-3, 7.1e-3, 7.8e-3, 6.8e-3, 7.1e-3, 8.6e-3, 7.8e-3,
  7.0e-3, 4.7e-3, 7.8e-3, 9.4e-3, 6.0e-3, 4.7e-3, 8.6e-3, 1.25e-2, 7.0e-3, 6.4e-3,
  9.4e-3, 7.5e-3, 1.26e-2, 7.8e-3, 9.0e-3, 1.14e-2, 8.6e-3, 1.04e-2, 8.6e-3, 1.39e-2,
  1.04e-2, 8.6e-3, 1.26e-2
];
const cSecondStartIndex = 34; // 230 within itersC

// ---------- styling ----------
const SANS = '"Liberation Sans", Arial, Helvetica, sans-serif';
const SERIF = '"Liberation Serif", "Times New Roman", serif';
const TEXT = '#262626';
const PAL = {
  gray:   { fill: '#b3b3b3', line: '#8e8e8e' },
  orange: { fill: '#f2a068', line: '#d8651c' },
  blue:   { fill: '#7b9ad6', line: '#3a63b3' }
};

function scatter(name, grid, values, startIndex, symbol, pal) {
  return {
    type: 'scatter',
    name: name,
    xAxisIndex: grid,
    yAxisIndex: grid,
    symbol: symbol,
    symbolSize: symbol === 'triangle' ? [10, 9] : 8,
    data: values.map((v, i) => [startIndex + i, v]),
    itemStyle: { color: pal.fill, borderColor: pal.line, borderWidth: 1 },
    emphasis: { disabled: true },
    silent: true,
    animation: false
  };
}

function yLabel(v) {
  const k = Math.round(Math.log10(v)) + 5;
  return yTickLabels[k] !== undefined ? yTickLabels[k] : '';
}

function yAxis(grid, labelSize, nameSize, nameGap) {
  return {
    type: 'log', logBase: 10, gridIndex: grid, min: yTickValues[0], max: yTickValues[yTickValues.length - 1],
    axisLine: { show: true, lineStyle: { color: '#000', width: 1 } },
    axisTick: { show: true, length: 4, lineStyle: { color: '#000' } },
    minorTick: { show: true, splitNumber: 9, length: 3, lineStyle: { color: '#000' } },
    splitLine: { show: true, lineStyle: { color: '#d9d9d9', width: 1 } },
    axisLabel: { formatter: yLabel, fontSize: labelSize, fontFamily: SANS, color: TEXT, margin: 16 },
    name: 'Max Relative Error (max {t|θ} )',
    nameLocation: 'middle', nameGap: nameGap,
    nameTextStyle: {
      fontSize: nameSize, fontFamily: SANS, color: TEXT,
      rich: { t: { fontSize: nameSize, fontFamily: SERIF, fontStyle: 'italic', color: TEXT } }
    }
  };
}

function xAxis(grid, cats, step, lastLabelIdx, labelSize, nameSize, nameGap, namePad) {
  return {
    type: 'category', gridIndex: grid, data: cats, boundaryGap: false,
    axisLine: { show: true, lineStyle: { color: '#d9d9d9' } },
    axisTick: { show: false },
    splitLine: { show: false },
    axisLabel: {
      rotate: 90, margin: 14, fontSize: labelSize, fontFamily: SANS, color: TEXT,
      interval: (i) => i % step === 0 && i <= lastLabelIdx
    },
    name: 'Simulation Iteration', nameLocation: 'middle', nameGap: nameGap,
    nameTextStyle: { fontSize: nameSize, fontFamily: SANS, color: TEXT, padding: namePad || 0 }
  };
}

// legend entries: [series name, marker centre x, row centre y, font size]
const legendLayout = [];
function addLegendBlock(names, cols, rows, fontSize) {
  names.forEach((n, k) => {
    legendLayout.push([n, cols[k % cols.length], rows[Math.floor(k / cols.length)], fontSize]);
  });
}

const namesAB = [
  'DCT-EC 1E-3', 'DCT-EC 1E-4', 'DCT-EC 1E-5',
  'ZFP 1E-3', 'ZFP 1E-4', 'ZFP 1E-5',
  'SZ 1E-3', 'SZ 1E-4', 'SZ 1E-5'
];
const namesC = [
  'DCT-EC consecutive restart at 196', 'DCT-EC second restart at 230',
  'ZFP consecutive restart at 196', 'ZFP second restart at 230',
  'SZ consecutive restart at 196', 'SZ second restart at 230'
];
addLegendBlock(namesAB, [55, 219, 389], [316, 345, 375], 20);
addLegendBlock(namesAB, [55, 219, 389], [738, 769, 799], 20);
addLegendBlock(namesC, [13, 300], [1137, 1176, 1214], 16);

const legends = legendLayout.map(([name, cx, cy, fs]) => ({
  data: [name],
  left: cx - 4,
  top: cy - Math.round((fs + 2) / 2),
  padding: 0,
  itemWidth: 8, itemHeight: 8, itemGap: 0,
  selectedMode: false,
  textStyle: { fontSize: fs, lineHeight: fs + 2, fontFamily: SANS, color: TEXT, padding: [0, 0, 0, 0] }
}));

const series = [];
[['A', 0, aDct3, aDct4, aDct5, aZfp3, aZfp4, aZfp5, aSz3, aSz4, aSz5],
 ['B', 1, bDct3, bDct4, bDct5, bZfp3, bZfp4, bZfp5, bSz3, bSz4, bSz5]].forEach(row => {
  const g = row[1];
  const sets = row.slice(2);
  const shapes = ['circle', 'circle', 'circle', 'rect', 'rect', 'rect', 'triangle', 'triangle', 'triangle'];
  const pals = [PAL.gray, PAL.orange, PAL.blue];
  sets.forEach((vals, k) => series.push(scatter(namesAB[k], g, vals, 0, shapes[k], pals[k % 3])));
});
series.push(scatter(namesC[0], 2, cDctFirst, 0, 'circle', PAL.orange));
series.push(scatter(namesC[1], 2, cDctSecond, cSecondStartIndex, 'circle', PAL.blue));
series.push(scatter(namesC[2], 2, cZfpFirst, 0, 'rect', PAL.orange));
series.push(scatter(namesC[3], 2, cZfpSecond, cSecondStartIndex, 'rect', PAL.blue));
series.push(scatter(namesC[4], 2, cSzFirst, 0, 'triangle', PAL.orange));
series.push(scatter(namesC[5], 2, cSzSecond, cSecondStartIndex, 'triangle', PAL.blue));

const captions = [
  ['(a) Cellular (single restart)', 406],
  ['(b) Sedov (single restart)', 831],
  ['(c) Cellular (multiple, or compound, restart)', 1246]
];

const option = {
  animation: false,
  backgroundColor: '#ffffff',
  grid: [
    { left: 100, top: 10, width: 417, height: 220 },
    { left: 100, top: 433, width: 417, height: 219 },
    { left: 115, top: 853, width: 375, height: 199 }
  ],
  xAxis: [
    xAxis(0, itersA, 6, 96, 20, 20, 52),
    xAxis(1, itersB, 8, 128, 19, 20, 49),
    xAxis(2, itersC, 6, 90, 17, 17, 47, [0, 40, 0, 0])
  ],
  yAxis: [
    yAxis(0, 20, 20, 68),
    yAxis(1, 19, 20, 68),
    yAxis(2, 17, 17, 63)
  ],
  legend: legends,
  graphic: captions.map(([text, y]) => ({
    type: 'text', x: 265, y: y,
    style: { text: text, font: '18px ' + SERIF, fill: '#000', textAlign: 'center', textVerticalAlign: 'middle' }
  })),
  series: series
};

const chart = echarts.init(document.getElementById('chart'), null, { renderer: 'canvas' });
chart.setOption(option);
</script>
</body>
</html>
